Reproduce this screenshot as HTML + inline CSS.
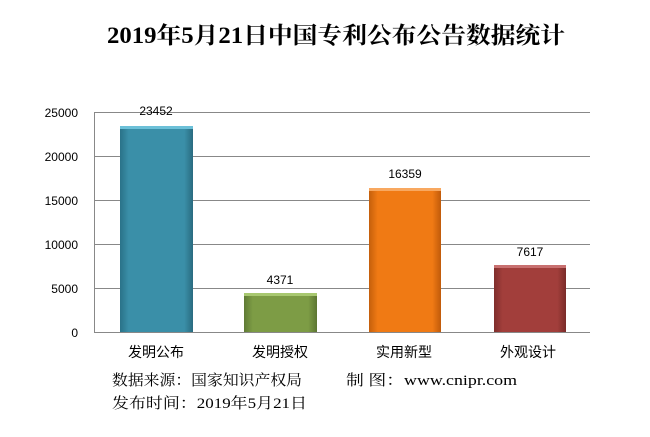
<!DOCTYPE html>
<html><head><meta charset="utf-8"><style>body{margin:0;background:#fff}</style></head>
<body>
<svg width="650" height="432" xmlns="http://www.w3.org/2000/svg" font-family="Liberation Sans, Noto Sans CJK SC, sans-serif">
<defs>
<linearGradient id="b" x1="0" x2="1"><stop offset="0" stop-color="#2a7288"/><stop offset=".12" stop-color="#3a8fa8"/><stop offset=".88" stop-color="#3a8fa8"/><stop offset="1" stop-color="#2a6b80"/></linearGradient>
<linearGradient id="g" x1="0" x2="1"><stop offset="0" stop-color="#5f7a35"/><stop offset=".12" stop-color="#7d9c45"/><stop offset=".88" stop-color="#7d9c45"/><stop offset="1" stop-color="#5c7632"/></linearGradient>
<linearGradient id="o" x1="0" x2="1"><stop offset="0" stop-color="#c45f0c"/><stop offset=".12" stop-color="#f07a14"/><stop offset=".88" stop-color="#f07a14"/><stop offset="1" stop-color="#c05a0a"/></linearGradient>
<linearGradient id="r" x1="0" x2="1"><stop offset="0" stop-color="#7f2e2c"/><stop offset=".12" stop-color="#a23e3b"/><stop offset=".88" stop-color="#a23e3b"/><stop offset="1" stop-color="#7a2b29"/></linearGradient>
</defs>
<text x="107" y="43" textLength="458" lengthAdjust="spacingAndGlyphs" font-size="23" font-weight="bold" font-family="Liberation Serif, Noto Serif CJK SC, serif">2019年5月21日中国专利公布公告数据统计</text>
<g stroke="#888" stroke-width="1">
<line x1="94" y1="112.5" x2="590" y2="112.5"/><line x1="94" y1="156.5" x2="590" y2="156.5"/><line x1="94" y1="200.5" x2="590" y2="200.5"/><line x1="94" y1="244.5" x2="590" y2="244.5"/><line x1="94" y1="288.5" x2="590" y2="288.5"/><line x1="94" y1="332.5" x2="590" y2="332.5"/><line x1="94.5" y1="112" x2="94.5" y2="333"/>
</g>
<g font-size="12" text-anchor="end">
<text x="78" y="117">25000</text><text x="78" y="161">20000</text><text x="78" y="205">15000</text><text x="78" y="249">10000</text><text x="78" y="293">5000</text><text x="78" y="337">0</text>
</g>
<rect x="120" y="126" width="73" height="206" fill="url(#b)"/><rect x="120" y="126" width="73" height="3" fill="#6cc0d8"/>
<rect x="244" y="293" width="73" height="39" fill="url(#g)"/><rect x="244" y="293" width="73" height="3" fill="#a8c870"/>
<rect x="369" y="188" width="72" height="144" fill="url(#o)"/><rect x="369" y="188" width="72" height="3" fill="#f8a860"/>
<rect x="494" y="265" width="72" height="67" fill="url(#r)"/><rect x="494" y="265" width="72" height="3" fill="#c87070"/>
<g font-size="12" text-anchor="middle">
<text x="156" y="115">23452</text><text x="280" y="284">4371</text><text x="405" y="178">16359</text><text x="530" y="256">7617</text>
</g>
<g font-size="14" text-anchor="middle">
<text x="156" y="357">发明公布</text><text x="280" y="357">发明授权</text><text x="404" y="357">实用新型</text><text x="528" y="357">外观设计</text>
</g>
<g font-size="15" font-family="Liberation Serif, Noto Serif CJK SC, serif">
<text x="112" y="385" textLength="190" lengthAdjust="spacingAndGlyphs">数据来源：国家知识产权局</text>
<text x="346" y="385" textLength="171" lengthAdjust="spacingAndGlyphs">制 图：www.cnipr.com</text>
<text x="112" y="408" textLength="195" lengthAdjust="spacingAndGlyphs">发布时间：2019年5月21日</text>
</g>
</svg>
</body></html>
